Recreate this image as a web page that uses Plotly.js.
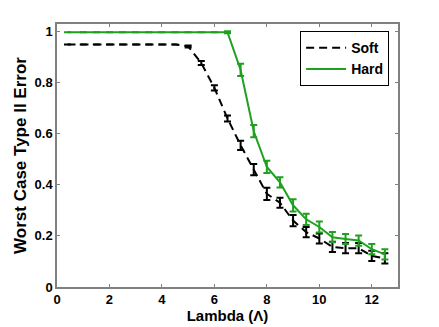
<!DOCTYPE html>
<html>
<head>
<meta charset="utf-8">
<script src="https://cdn.plot.ly/plotly-3.0.1.min.js"></script>
<style>
  html, body { margin: 0; padding: 0; background: #fff; }
  #plot { width: 439px; height: 327px; }
</style>
</head>
<body>
<div id="plot"></div>
<script>
// lambda values (x axis)
const lambda = [0.4, 1, 1.5, 2, 2.5, 3, 3.5, 4, 4.5, 5, 5.5, 6, 6.5, 7, 7.5, 8, 8.5, 9, 9.5, 10, 10.5, 11, 11.5, 12, 12.5];

// soft constraint
const softErr = [0.95, 0.95, 0.95, 0.95, 0.95, 0.95, 0.95, 0.95, 0.95, 0.942, 0.877, 0.78, 0.66, 0.555, 0.46, 0.365, 0.33, 0.26, 0.215, 0.19, 0.157, 0.152, 0.152, 0.122, 0.112];
const softBar = [0, 0, 0, 0, 0, 0, 0, 0, 0, 0.004, 0.008, 0.01, 0.012, 0.018, 0.022, 0.024, 0.02, 0.022, 0.02, 0.02, 0.02, 0.02, 0.02, 0.02, 0.02];

// hard constraint
const hardErr = [0.998, 0.998, 0.998, 0.998, 0.998, 0.998, 0.998, 0.998, 0.998, 0.998, 0.998, 0.998, 0.998, 0.85, 0.61, 0.47, 0.41, 0.32, 0.265, 0.235, 0.195, 0.188, 0.182, 0.148, 0.128];
const hardBar = [0, 0, 0, 0, 0, 0, 0, 0, 0, 0, 0, 0, 0.004, 0.024, 0.024, 0.024, 0.02, 0.024, 0.022, 0.022, 0.02, 0.02, 0.02, 0.02, 0.02];

const green = '#1fa01f';

const soft = {
    x: lambda,
    y: softErr,
    mode: 'lines',
    name: 'Soft',
    line: {color: 'black', width: 2, dash: '8px,5px'},
    error_y: {type: 'data', array: softBar, visible: true, color: 'black', thickness: 2, width: 3.5}
};

const hard = {
    x: lambda,
    y: hardErr,
    mode: 'lines',
    name: 'Hard',
    line: {color: green, width: 2},
    error_y: {type: 'data', array: hardBar, visible: true, color: green, thickness: 2, width: 3.5}
};

const fam = 'Liberation Sans, Arial, sans-serif';
const tickFont = {family: fam, size: 13, color: 'black', weight: 'bold'};

const layout = {
    width: 439,
    height: 327,
    margin: {l: 57, r: 41, t: 24, b: 40},
    paper_bgcolor: 'white',
    plot_bgcolor: 'white',
    showlegend: true,
    xaxis: {
        range: [0, 13],
        tickvals: [0, 2, 4, 6, 8, 10, 12],
        ticks: 'inside',
        ticklen: 3,
        tickcolor: '#808080',
        showline: true,
        linecolor: '#808080',
        linewidth: 1.5,
        mirror: 'ticks',
        showgrid: false,
        zeroline: false,
        tickfont: tickFont,
        title: {text: 'Lambda (Λ)', font: {family: fam, size: 15, color: 'black', weight: 'bold'}, standoff: 1}
    },
    yaxis: {
        range: [0, 1.03],
        tickvals: [0, 0.2, 0.4, 0.6, 0.8, 1],
        ticktext: ['0', '0.2', '0.4', '0.6', '0.8', '1'],
        ticks: 'inside',
        ticklen: 3,
        tickcolor: '#808080',
        showline: true,
        linecolor: '#808080',
        linewidth: 1.5,
        mirror: 'ticks',
        showgrid: false,
        zeroline: false,
        tickfont: tickFont,
        title: {text: 'Worst Case Type II Error', font: {family: fam, size: 17, color: 'black', weight: 'bold'}, standoff: 4}
    },
    legend: {
        x: 0.974,
        y: 0.973,
        xanchor: 'right',
        yanchor: 'top',
        bgcolor: 'white',
        bordercolor: 'black',
        borderwidth: 1,
        itemwidth: 40,
        font: {family: fam, size: 14, color: 'black', weight: 'bold'},
        tracegroupgap: 2
    }
};

Plotly.newPlot('plot', [soft, hard], layout, {displayModeBar: false});
</script>
</body>
</html>
